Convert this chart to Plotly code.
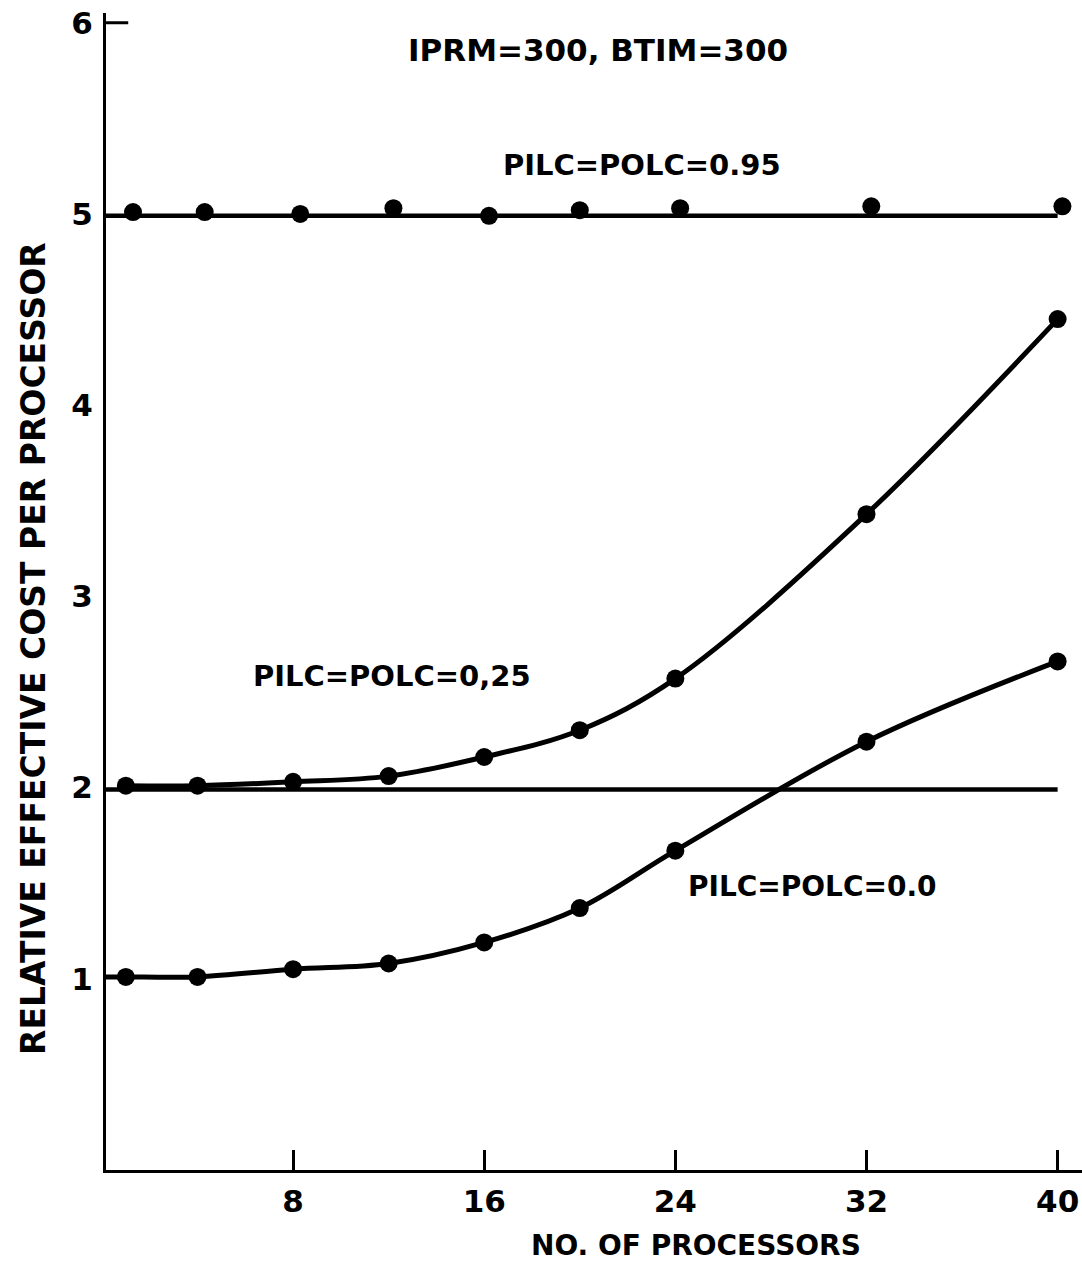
import plotly.graph_objects as go

# Data
x_095 = [1.3, 4.3, 8.3, 12.2, 16.2, 20.0, 24.2, 32.2, 40.2]
y_095 = [5.01, 5.01, 5.00, 5.03, 4.99, 5.02, 5.03, 5.04, 5.04]

x_025 = [1, 4, 8, 12, 16, 20, 24, 32, 40]
y_025 = [2.01, 2.01, 2.03, 2.06, 2.16, 2.30, 2.57, 3.43, 4.45]

x_000 = [1, 4, 8, 12, 16, 20, 24, 32, 40]
y_000 = [1.01, 1.01, 1.05, 1.08, 1.19, 1.37, 1.67, 2.24, 2.66]

# fitted reference lines / curve start at the axis
flat_x = [0.17, 40]
flat_095 = [4.99, 4.99]
flat_025 = [1.99, 1.99]
curve000_x = [0.17] + x_000
curve000_y = [1.01] + y_000

x_ticks = [8, 16, 24, 32, 40]
y_ticks = [1, 2, 3, 4, 5, 6]

FONT = "DejaVu Sans"
BLACK = "#000000"

W, H = 1082, 1273
L, R, T, B = 106, 0, 13, 103
PW, PH = W - L - R, H - T - B

fig = go.Figure()

# horizontal fit lines
fig.add_trace(go.Scatter(x=flat_x, y=flat_095, mode="lines",
                         line=dict(color=BLACK, width=4.5), showlegend=False))
fig.add_trace(go.Scatter(x=flat_x, y=flat_025, mode="lines",
                         line=dict(color=BLACK, width=4.5), showlegend=False))

# curves
fig.add_trace(go.Scatter(x=x_025, y=y_025, mode="lines",
                         line=dict(color=BLACK, width=5, shape="spline", smoothing=1.0),
                         showlegend=False))
fig.add_trace(go.Scatter(x=curve000_x, y=curve000_y, mode="lines",
                         line=dict(color=BLACK, width=5, shape="spline", smoothing=1.0),
                         showlegend=False))

# markers
for xs, ys in [(x_095, y_095), (x_025, y_025), (x_000, y_000)]:
    fig.add_trace(go.Scatter(x=xs, y=ys, mode="markers",
                             marker=dict(color=BLACK, size=18, line=dict(width=0)),
                             showlegend=False))

# tick at 6 on y-axis
fig.add_shape(type="line", x0=0.17, x1=1.1, y0=6, y1=6, xref="x", yref="y",
              line=dict(color=BLACK, width=3))


def px2paper(px, py):
    return (px - L) / PW, 1 - (py - T) / PH


annots = [
    dict(x=598, y=50, text="IPRM=300, BTIM=300", size=31),
    dict(x=642, y=165, text="PILC=POLC=0.95", size=29),
    dict(x=392, y=676, text="PILC=POLC=0,25", size=29),
    dict(x=812, y=886, text="PILC=POLC=0.0", size=28),
    dict(x=696, y=1245, text="NO. OF PROCESSORS", size=28),
]
for a in annots:
    ax, ay = px2paper(a["x"], a["y"])
    fig.add_annotation(x=ax, y=ay, xref="paper", yref="paper",
                       text="<b>" + a["text"] + "</b>", showarrow=False,
                       xanchor="center", yanchor="middle",
                       font=dict(family=FONT, size=a["size"], color=BLACK))

# y-axis title
tx, ty = px2paper(33, 649)
fig.add_annotation(x=tx, y=ty, xref="paper", yref="paper",
                   text="<b>RELATIVE EFFECTIVE COST PER PROCESSOR</b>", textangle=-90,
                   showarrow=False, xanchor="center", yanchor="middle",
                   font=dict(family=FONT, size=33, color=BLACK))

fig.update_layout(
    width=W, height=H,
    margin=dict(l=L, r=R, t=T, b=B),
    paper_bgcolor="white", plot_bgcolor="white",
    font=dict(family=FONT, color=BLACK),
    xaxis=dict(range=[0.17, 41.02], tickvals=x_ticks,
               ticktext=["<b>%d</b>" % v for v in x_ticks],
               ticks="inside", ticklen=20, tickwidth=3, tickcolor=BLACK,
               showline=True, linecolor=BLACK, linewidth=3, showgrid=False, zeroline=False,
               tickfont=dict(family=FONT, size=31, color=BLACK), ticklabelstandoff=2),
    yaxis=dict(range=[0, 6.051], tickvals=y_ticks,
               ticktext=["<b>%d</b>" % v for v in y_ticks],
               ticks="", showline=True, linecolor=BLACK, linewidth=3, showgrid=False,
               zeroline=False, tickfont=dict(family=FONT, size=31, color=BLACK),
               ticklabelstandoff=4),
)

fig.write_html("out.html")
